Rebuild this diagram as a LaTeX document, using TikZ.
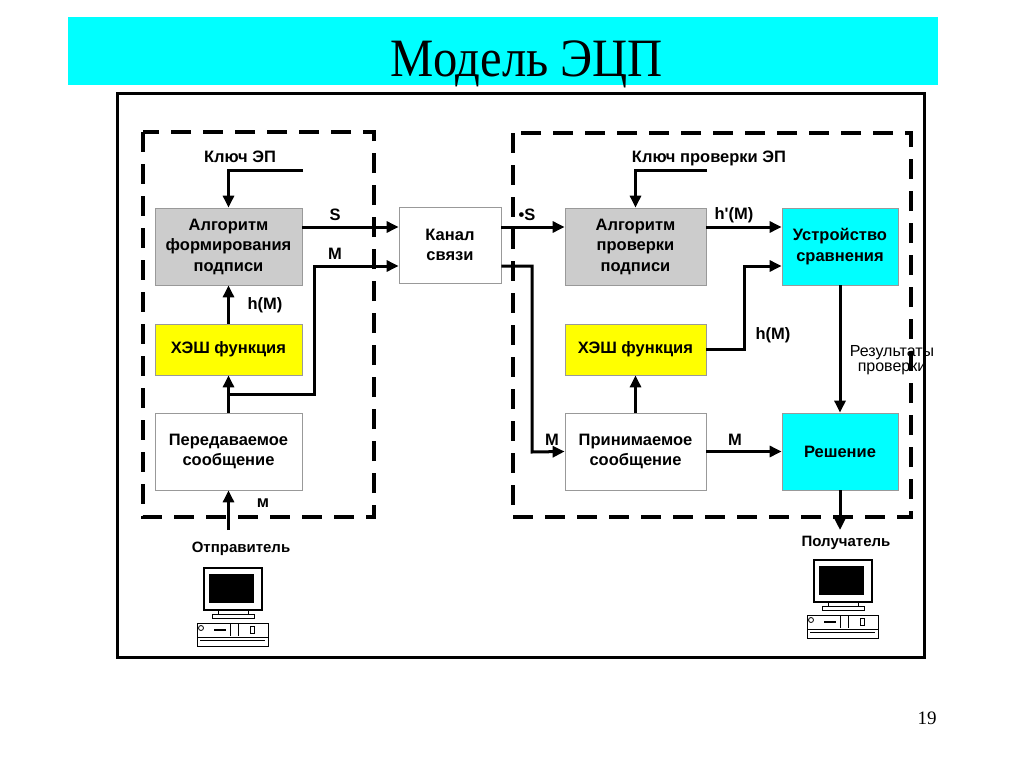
\documentclass[tikz,border=0pt]{standalone}
\usepackage{fontspec}
\setmainfont{Liberation Serif}
\newfontfamily\arialf{Liberation Sans}
\usetikzlibrary{arrows.meta}
\definecolor{aqua}{RGB}{0,255,255}
\definecolor{lemon}{RGB}{255,255,0}

\tikzset{
	terminal/.pic={
		\draw[line width=1.2] (0,0) rectangle (58,42);
		\fill (5,6) rectangle (50,35);
		\draw[line width=1] (14,42) rectangle (44,46);
		\draw[line width=1] (8,46) rectangle (50,50);
		\draw[line width=1] (-7,55) rectangle (64,78);
		\draw[line width=0.8] (-7,69) -- (64,69) (-4,72) -- (61,72);
		\draw[line width=0.8] (-3,60) circle (2.5);
		\draw[line width=1.2] (10,62) -- (22,62);
		\draw[line width=0.8] (26,56) -- (26,68) (34,56) -- (34,68) (46,58) rectangle (50,65);
	}
}

\begin{document}
\begin{tikzpicture}[x=1pt,y=-1pt,
		blk/.style={rectangle,draw=gray!80,line width=0.8,minimum height=77,inner sep=0,align=center,
			font=\arialf\bfseries\fontsize{16.5}{20.5}\selectfont},
		lbl/.style={inner sep=0,font=\arialf\bfseries\fontsize{16.5}{18}\selectfont},
		arr/.style={line width=3,-{Triangle[length=12pt,width=11pt]}},
		zone/.style={line width=4,dash pattern=on 20pt off 12pt}]
	\useasboundingbox (0,0) rectangle (1024,768);

	\fill[aqua] (68,17) rectangle (938,85);
	\node[anchor=base,xscale=0.9,inner sep=0,font=\fontsize{54}{56}\selectfont] (title) at (527,77) {Модель ЭЦП};
	\draw[line width=3] (117,93) rectangle (924,657);

	\draw[zone] (143,132) rectangle (374,517);
	\draw[zone] (513,133) rectangle (911,517);

	% sender side
	\node[blk,fill=gray!40,minimum width=147] (algo1) at (228.5,246.5) {Алгоритм\\формирования\\подписи};
	\node[blk,fill=lemon,minimum width=147,minimum height=51] (hash1) at (228.5,349.5) {ХЭШ функция};
	\node[blk,fill=white,minimum width=147] (msg1) at (228.5,451.5) {Передаваемое\\сообщение};
	\node[blk,fill=white,minimum width=102,minimum height=76] (chan) at (450,245) {Канал\\связи};

	% receiver side
	\node[blk,fill=gray!40,minimum width=141] (algo2) at (635.5,246.5) {Алгоритм\\проверки\\подписи};
	\node[blk,fill=aqua,minimum width=116] (cmp) at (840,246.5) {Устройство\\сравнения};
	\node[blk,fill=lemon,minimum width=141,minimum height=51] (hash2) at (635.5,349.5) {ХЭШ функция};
	\node[blk,fill=white,minimum width=141] (msg2) at (635.5,451.5) {Принимаемое\\сообщение};
	\node[blk,fill=aqua,minimum width=116] (dec) at (840,451.5) {Решение};

	\coordinate (sy) at (0,227);
	\coordinate (k1) at (303,170);
	\coordinate (k2) at (707,170);
	\coordinate (j1) at (228.5,394);
	\coordinate (m1) at (314,266);
	\coordinate (m2) at (532,452);
	\coordinate (h2) at (744,266);
	\coordinate (src) at (228.5,530);
	\coordinate (dst) at (840,530);

	\draw[arr] (k1) -| (algo1.north);
	\draw[arr] (algo1.east |- sy) -- (chan.west |- sy);
	\draw[arr] (msg1.north) -- (hash1.south);
	\draw[arr] (j1) -| (m1) -- (chan.west |- m1);
	\draw[arr] (hash1.north) -- (algo1.south);
	\draw[arr] (src) -- (msg1.south);

	\draw[arr] (chan.east |- sy) -- (algo2.west |- sy);
	\draw[arr] (chan.east |- m1) -| (m2) -- (msg2.west);
	\draw[arr] (k2) -| (algo2.north);
	\draw[arr] (algo2.east |- sy) -- (cmp.west |- sy);
	\draw[arr] (hash2.east) -| (h2) -- (cmp.west |- h2);
	\draw[arr] (msg2.north) -- (hash2.south);
	\draw[arr] (msg2.east) -- (dec.west);
	\draw[arr] (cmp.south) -- (dec.north);
	\draw[arr] (dec.south) -- (dst);

	\node[lbl] (kl1) at (240,157) {Ключ ЭП};
	\node[lbl] (ls1) at (335,215) {S};
	\node[lbl] (lm1) at (335,254) {M};
	\node[lbl] (lh1) at (265,305) {h(M)};
	\node[lbl] (lm0) at (263,503) {м};
	\node[lbl] (kl2) at (709,158) {Ключ проверки ЭП};
	\node[lbl] (ls2) at (527,215) {•S};
	\node[lbl] (lm2) at (552,440) {M};
	\node[lbl] (lh2) at (734,215) {h'(M)};
	\node[lbl] (lh3) at (773,335) {h(M)};
	\node[lbl] (lm3) at (735,440) {M};
	\node[inner sep=0,align=center,font=\arialf\fontsize{16}{14.5}\selectfont] (res) at (892,360) {Результаты\\проверки};
	\node[lbl,font=\arialf\bfseries\fontsize{15}{17}\selectfont] (snd) at (241,549) {Отправитель};
	\node[lbl,font=\arialf\bfseries\fontsize{15}{17}\selectfont] (rcv) at (846,543) {Получатель};

	\pic at (204,568) {terminal};
	\pic at (814,560) {terminal};

	\node[font=\fontsize{19}{20}\selectfont] (num) at (927,718) {19};
\end{tikzpicture}
\end{document}
